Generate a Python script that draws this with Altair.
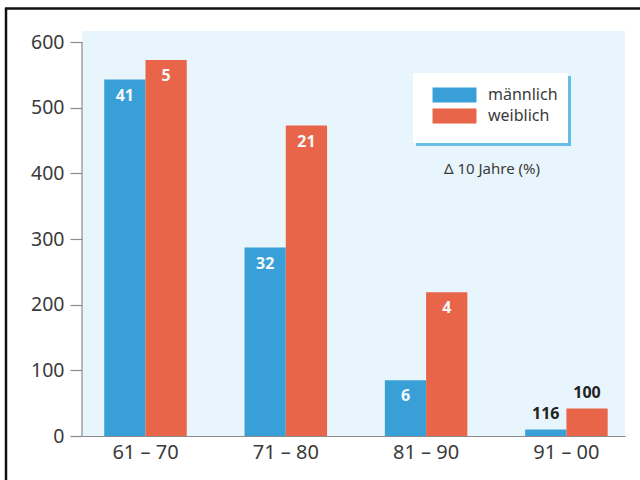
import altair as alt
import pandas as pd

# Zeiträume, Geschlechter und Werte je Balken
dekaden = ["61 – 70", "71 – 80", "81 – 90", "91 – 00"]
geschlechter = ["männlich", "weiblich"]
maennlich = [543, 287, 85, 10]
weiblich = [573, 473, 219, 42]
delta_maennlich = ["41", "32", "6", "116"]
delta_weiblich = ["5", "21", "4", "100"]
farben = ["#39a0d7", "#e8654a"]

zeilen = []
for i, d in enumerate(dekaden):
    zeilen.append({"Dekade": d, "Geschlecht": "männlich",
                   "Anzahl": maennlich[i], "Delta": delta_maennlich[i]})
    zeilen.append({"Dekade": d, "Geschlecht": "weiblich",
                   "Anzahl": weiblich[i], "Delta": delta_weiblich[i]})
df = pd.DataFrame(zeilen)
eins = pd.DataFrame({"k": [0]})

SCHRIFT = "Noto Sans"
GRAU = "#8c8c8c"
TEXT = "#3a3a3a"

x_enc = alt.X(
    "Dekade:N", sort=dekaden,
    scale=alt.Scale(paddingInner=0.412, paddingOuter=0.141, align=0.562),
    axis=alt.Axis(title=None, labelAngle=0, ticks=False, labelFontSize=20,
                  labelPadding=6, domainColor=GRAU, domainWidth=1.2,
                  labelColor=TEXT, labelFont=SCHRIFT),
)
xoff_enc = alt.XOffset("Geschlecht:N", sort=geschlechter,
                       scale=alt.Scale(paddingInner=0, paddingOuter=0))
y_enc = alt.Y(
    "Anzahl:Q",
    scale=alt.Scale(domain=[0, 617], nice=False, zero=True),
    axis=alt.Axis(title=None, values=[0, 100, 200, 300, 400, 500, 600],
                  domain=False, grid=False, tickSize=12, tickColor=GRAU,
                  tickWidth=1.2, labelPadding=6, labelFontSize=19.5,
                  labelColor=TEXT, labelFont=SCHRIFT),
)

base = alt.Chart(df).encode(x=x_enc, xOffset=xoff_enc, y=y_enc)

# breite, flache Legendensymbole (44 x 15 px)
balken = base.mark_bar().encode(
    color=alt.Color(
        "Geschlecht:N",
        scale=alt.Scale(domain=geschlechter, range=farben),
        legend=alt.Legend(
            title=None, orient="none", legendX=364.5, legendY=56,
            symbolType="M-2.93,-1H2.93V1H-2.93Z", symbolSize=225,
            symbolStrokeWidth=0, labelFontSize=16, labelOffset=25.5,
            rowPadding=5, labelFont=SCHRIFT, labelColor=TEXT,
        ),
    )
)

# Prozentwerte in den hohen Balken, über den niedrigen
innen = base.transform_filter("datum.Anzahl >= 60").mark_text(
    baseline="alphabetic", dy=21, fontSize=16, fontWeight="bold",
    font=SCHRIFT, color="#f3f7fa",
).encode(text="Delta:N")

aussen = base.transform_filter("datum.Anzahl < 60").mark_text(
    baseline="alphabetic", dy=-10, fontSize=16, fontWeight="bold",
    font=SCHRIFT, color="#222222",
).encode(text="Delta:N")

# senkrechte Achsenlinie von 0 bis 600
achse = alt.Chart(eins).mark_rule(color=GRAU, strokeWidth=1.2).encode(
    x=alt.value(0), y=alt.datum(0), y2=alt.datum(600)
)

# Legendenkasten mit Schatten
schatten = alt.Chart(eins).mark_rect(color="#66bde6").encode(
    x=alt.value(334), x2=alt.value(489), y=alt.value(45), y2=alt.value(115)
)
kasten = alt.Chart(eins).mark_rect(color="white").encode(
    x=alt.value(331), x2=alt.value(486), y=alt.value(42), y2=alt.value(112)
)
hinweis = alt.Chart(eins).mark_text(
    text="Δ 10 Jahre (%)", fontSize=15, font=SCHRIFT, color=TEXT,
    baseline="middle", align="center",
).encode(x=alt.value(410), y=alt.value(138))

# Rahmen links und oben
rahmen_links = alt.Chart(eins).mark_rule(color="#111111", strokeWidth=2.5).encode(
    x=alt.value(-76), y=alt.value(-23), y2=alt.value(449)
)
rahmen_oben = alt.Chart(eins).mark_rule(color="#111111", strokeWidth=2.5).encode(
    y=alt.value(-22.5), x=alt.value(-77), x2=alt.value(558)
)

chart = alt.layer(
    schatten, kasten, balken, innen, aussen, achse, hinweis,
    rahmen_links, rahmen_oben,
).properties(
    width=543, height=405,
    autosize=alt.AutoSizeParams(type="none"),
    padding={"left": 82, "top": 31, "right": 15, "bottom": 44},
    background="white",
).configure_view(
    fill="#e9f5fc", stroke=None
)

chart.save("out.html", embed_options={"renderer": "svg", "actions": False})
